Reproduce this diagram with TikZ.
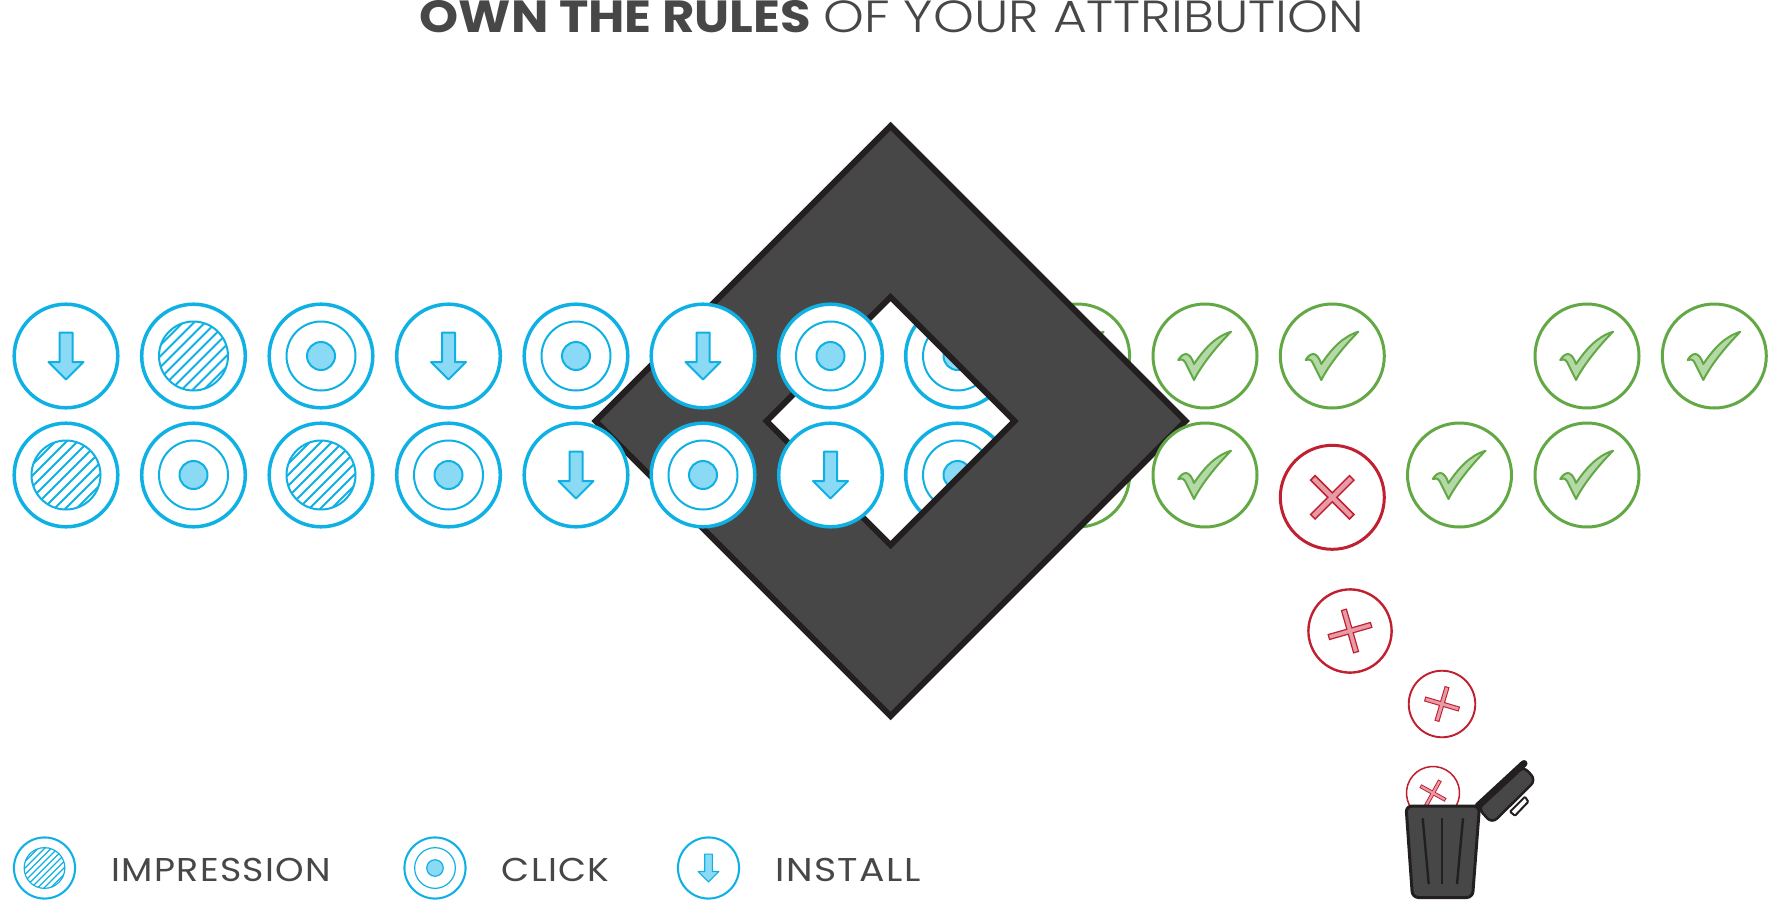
\documentclass[tikz,border=0pt]{standalone}
\usepackage{fontspec}
\setmainfont{Poppins}
\newfontfamily\lightfont{Poppins Light}
\newfontfamily\keyfont[FakeStretch=1.1,LetterSpace=4]{Poppins}
\usepackage{tikz}
\definecolor{iconblue}{HTML}{0FB1E4}
\definecolor{paleblue}{HTML}{8ADAF5}
\definecolor{icongreen}{HTML}{62A845}
\definecolor{palegreen}{HTML}{B4D9A6}
\definecolor{iconred}{HTML}{C0202F}
\definecolor{palered}{HTML}{E79BA6}
\definecolor{slab}{HTML}{474747}
\definecolor{slabline}{HTML}{231F20}
\def\iconsize{1}
\tikzset{
	resize/.style={scale=#1,setsize=#1},
	setsize/.code={\def\iconsize{#1}},
	bigring/.style={line width=3.5pt*\iconsize,fill=white},
	sidering/.style={line width=3pt*\iconsize,fill=white},
	thinring/.style={line width=2pt*\iconsize},
	label/.style={anchor=west,text=slab,font=\keyfont\fontsize{33}{33}\selectfont},
	bluering/.style={bigring,draw=iconblue},
	bluepart/.style={thinring,draw=iconblue,fill=paleblue,line join=round},
	pics/impression/.style={code={
		\draw[bluering] (0,0) circle (51.8);
		\begin{scope}
			\clip (0,0) circle (34.5);
			\foreach \d in {-55,-44,...,55}
				\draw[iconblue,thinring] (\d-40,40) -- (\d+40,-40);
		\end{scope}
		\draw[iconblue,thinring] (0,0) circle (34.5);
	}},
	pics/click/.style={code={
		\draw[bluering] (0,0) circle (51.8);
		\draw[iconblue,thinring] (0,0) circle (34.5);
		\draw[bluepart] (0,0) circle (14);
	}},
	pics/install/.style={code={
		\draw[bluering] (0,0) circle (51.8);
		\draw[bluepart] (-6.5,-23.5) -- (6.5,-23.5) -- (6.5,6) -- (17.5,6) -- (0,23.5) -- (-17.5,6) -- (-6.5,6) -- cycle;
	}},
	pics/check/.style={code={
		\draw[sidering,draw=icongreen] (0,0) circle (52);
		\draw[thinring,draw=icongreen,fill=palegreen,line join=round] (26,-24.3) .. controls (10,-19) and (0,-8) .. (-11,8)
			.. controls (-13,2) and (-16,-2) .. (-19,-2) .. controls (-22,-2) and (-25,1) .. (-26.7,4)
			.. controls (-24,3) and (-22,3) .. (-20,6) -- (-11,24) .. controls (-4,10) and (10,-8) .. (26,-24.3) -- cycle;
	}},
	pics/reject/.style={code={
		\draw[sidering,draw=iconred] (0,0) circle (52);
		\draw[line width=1.5pt*\iconsize,draw=iconred,fill=palered,line join=miter] (-27.5,-3.2) -- (-3.2,-3.2) -- (-3.2,-27.5) -- (3.2,-27.5) -- (3.2,-3.2) -- (27.5,-3.2)
			-- (27.5,3.2) -- (3.2,3.2) -- (3.2,27.5) -- (-3.2,27.5) -- (-3.2,3.2) -- (-27.5,3.2) -- cycle;
	}},
}
\begin{document}
\begin{tikzpicture}[x=1pt,y=-1pt]
	\useasboundingbox (0,0) rectangle (1780,916);
	\node[anchor=base,text=slab,inner sep=0pt] (title) at (892,32)
		{\fontsize{45}{45}\selectfont\scalebox{1.105}[1]{\textbf{OWN THE RULES}} \scalebox{1.154}[1]{\lightfont OF YOUR ATTRIBUTION}};

	\pic (r1-8) at (957.5,356) {click};
	\pic (r2-8) at (957.5,475) {click};
	\pic (r1-9) at (1077.6,356) {check};
	\pic (r2-9) at (1077.6,475) {check};

	\path[draw=slabline,fill=slab,line width=6pt,even odd rule,line join=miter,miter limit=10]
		(890.5,126) -- (1185.5,421) -- (890.5,716) -- (595.5,421) -- cycle
		(890.5,297) -- (1014.5,421) -- (890.5,545) -- (766.5,421) -- cycle;

	\pic (r1-1) at (66,356) {install};
	\pic (r1-2) at (193.5,356) {impression};
	\pic (r1-3) at (321,356) {click};
	\pic (r1-4) at (448.5,356) {install};
	\pic (r1-5) at (576,356) {click};
	\pic (r1-6) at (703,356) {install};
	\pic (r1-7) at (830.5,356) {click};
	\pic (r2-1) at (66,475) {impression};
	\pic (r2-2) at (193.5,475) {click};
	\pic (r2-3) at (321,475) {impression};
	\pic (r2-4) at (448.5,475) {click};
	\pic (r2-5) at (576,475) {install};
	\pic (r2-6) at (703,475) {click};
	\pic (r2-7) at (830.5,475) {install};

	\pic (r1-10) at (1205,356) {check};
	\pic (r1-11) at (1332.3,356) {check};
	\pic (r1-13) at (1587,356) {check};
	\pic (r1-14) at (1714.3,356) {check};
	\pic (r2-10) at (1205,475) {check};
	\pic (r2-12) at (1459.5,475) {check};
	\pic (r2-13) at (1587,475) {check};

	\pic[rotate=45] (out1) at (1332.3,497.3) {reject};
	\pic[rotate=16,resize=.8] (out2) at (1350,631) {reject};
	\pic[rotate=-16.5,resize=.64] (out3) at (1442,704) {reject};
	\pic[rotate=-29,resize=.51] (out4) at (1433,793) {reject};

	\draw[draw=slabline,fill=white,line width=2pt,rounded corners=1pt]
		(1510,811.7) -- (1515,815.7) -- (1528.3,801.7) -- (1525,796.7) -- cycle;
	\draw[draw=slabline,fill=slab,line width=2.5pt,rounded corners=7pt]
		(1478,808) -- (1492,823.5) -- (1536,780) -- (1523,766) -- cycle;
	\draw[slabline,line width=7pt,line cap=round] (1478,806) -- (1524,763.5);
	\draw[draw=slabline,fill=slab,line width=3pt,rounded corners=6pt]
		(1406,806) -- (1479.5,806) -- (1472.5,897.5) -- (1412.5,897.5) -- cycle;
	\draw[slabline,line width=2.4pt] (1422.7,818.3) -- (1428.7,884);
	\draw[slabline,line width=2.4pt] (1441.7,818.3) -- (1441.7,884);
	\draw[slabline,line width=2.4pt] (1463,818.3) -- (1457,884);

	\pic[resize=.59] (key1) at (44.5,868) {impression};
	\node[label,inner sep=0pt] (key1text) at (111.5,870) {IMPRESSION};
	\pic[resize=.59] (key2) at (435,868) {click};
	\node[label,inner sep=0pt] (key2text) at (501.5,870) {CLICK};
	\pic[resize=.59] (key3) at (708.5,868) {install};
	\node[label,inner sep=0pt] (key3text) at (775.5,870) {\scalebox{1.04}[1]{INSTALL}};
\end{tikzpicture}
\end{document}
